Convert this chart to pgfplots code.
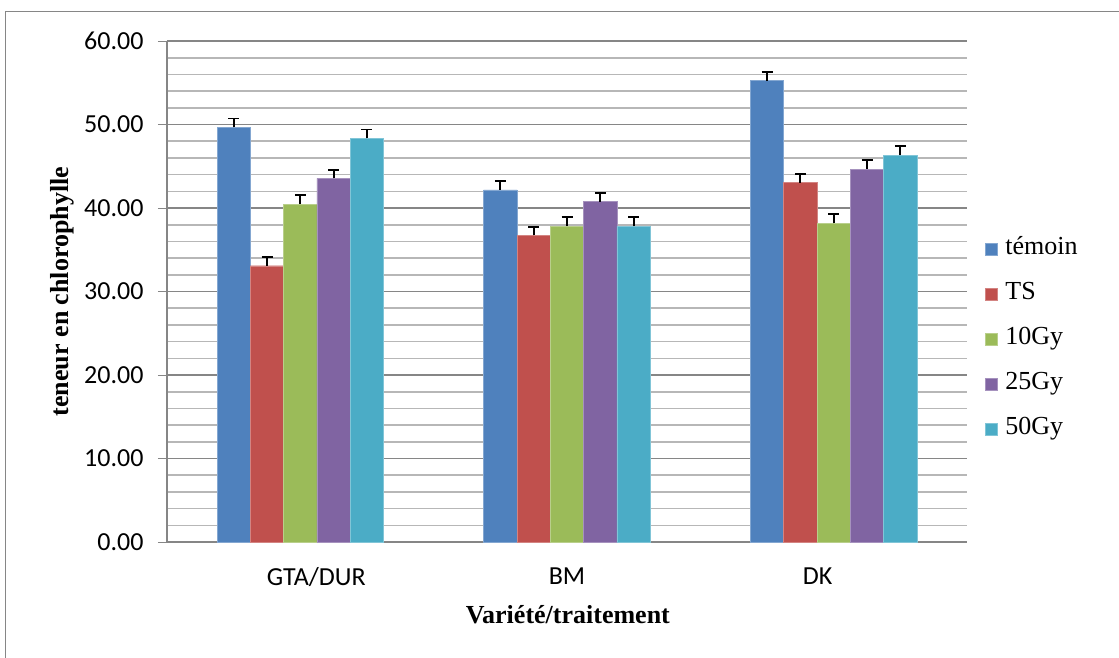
\documentclass[border=0pt]{standalone}
\usepackage{pgfplots}
\pgfplotsset{compat=1.18}
\usepackage{fontspec}
\setmainfont{Liberation Serif}
\newfontfamily\calibri{Carlito}
\definecolor{cblue}{HTML}{4F81BD}
\definecolor{cred}{HTML}{C0504D}
\definecolor{cgreen}{HTML}{9BBB59}
\definecolor{cpurple}{HTML}{8064A2}
\definecolor{ccyan}{HTML}{4BACC6}
\definecolor{majgrid}{HTML}{868686}
\definecolor{mingrid}{HTML}{B7B7B7}
\begin{document}
\begin{tikzpicture}
\useasboundingbox (0pt,0pt) rectangle (1119pt,-657pt);
\clip (0pt,0pt) rectangle (1119pt,-657pt);
\draw[majgrid, line width=1.2pt] (5.5pt,-700pt) -- (5.5pt,-11.5pt) -- (1200pt,-11.5pt);
\begin{axis}[
  at={(167pt,-542pt)}, anchor=south west,
  scale only axis, width=800pt, height=501pt,
  ybar=0pt, bar width=33.33pt,
  xmin=-0.5, xmax=2.5, ymin=0, ymax=60,
  xtick={0.06,1,1.94}, xticklabels={GTA/DUR,BM,DK},
  xtick style={draw=none},
  ytick={0,10,...,60},
  minor y tick num=4,
  minor tick length=0pt,
  major tick length=9pt,
  tick align=outside,
  ytick style={majgrid, line width=1pt},
  ymajorgrids, yminorgrids,
  major grid style={majgrid, line width=1.6pt},
  minor grid style={mingrid, line width=1.6pt},
  axis lines*=left,
  axis line style={majgrid, line width=1.6pt},
  /pgf/number format/assume math mode=true,
  yticklabel={\pgfmathprintnumber[fixed,fixed zerofill,precision=2]{\tick}},
  ticklabel style={font=\calibri\fontsize{26}{31}\selectfont},
  yticklabel style={xshift=-11pt},
  xticklabel style={yshift=-13pt},
  xlabel={Variété/traitement},
  ylabel={teneur en chlorophylle},
  label style={font=\bfseries\fontsize{26}{31}\selectfont},
  xlabel style={at={(axis description cs:0.501,-0.146)}, anchor=center},
  ylabel style={at={(axis description cs:-0.131,0.5)}, anchor=center, rotate=0},
  legend style={at={(axis description cs:1.0225,0.613)}, anchor=north west,
    draw=none, fill=none, inner sep=0pt, outer sep=0pt, row sep=17pt,
    font=\fontsize{26}{31}\selectfont,
    nodes={inner sep=2pt, text height=18pt, text depth=6pt},
    /tikz/every odd column/.append style={column sep=6pt}},
  legend cell align=left,
  legend image code/.code={\fill[#1] (0pt,-6pt) rectangle (12pt,6pt);},
  error bars/y dir=plus, error bars/y explicit,
  error bars/error bar style={black, line width=1.8pt},
  error bars/error mark options={rotate=90, black, line width=1.8pt, mark size=5.5pt},
]
\addplot[fill=cblue, draw=cblue!70!white] coordinates {(0,49.66) +- (0,1.05) (1,42.16) +- (0,1.05) (2,55.25) +- (0,1.05)};
\addplot[fill=cred, draw=cred!70!white] coordinates {(0,33.09) +- (0,1.02) (1,36.73) +- (0,1.03) (2,43.04) +- (0,1.04)};
\addplot[fill=cgreen, draw=cgreen!70!white] coordinates {(0,40.48) +- (0,1.1) (1,37.84) +- (0,1.1) (2,38.16) +- (0,1.08)};
\addplot[fill=cpurple, draw=cpurple!70!white] coordinates {(0,43.55) +- (0,1.05) (1,40.76) +- (0,1.05) (2,44.67) +- (0,1.08)};
\addplot[fill=ccyan, draw=ccyan!70!white] coordinates {(0,48.35) +- (0,1.05) (1,37.84) +- (0,1.1) (2,46.31) +- (0,1.08)};
\legend{témoin,TS,10Gy,25Gy,50Gy}
\end{axis}
\end{tikzpicture}
\end{document}
